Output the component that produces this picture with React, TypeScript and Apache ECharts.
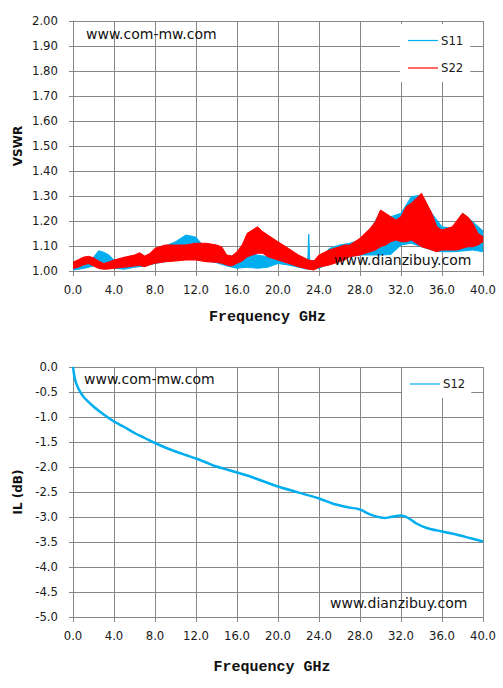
import React, { useEffect, useRef } from "react";
import * as echarts from "echarts";

// ---- Top chart (VSWR) : noisy traces read as lower / upper envelopes ----
const s22Freq = [0, 0.5, 1, 1.5, 2, 2.5, 3, 3.5, 4, 5, 6, 6.5, 7, 7.5, 8, 9, 10, 11, 12, 13, 14, 14.5, 15, 15.5, 16, 16.5, 17, 17.5, 18, 18.5, 19, 20, 21, 22, 23, 23.5, 24, 25, 26, 26.5, 27, 28, 29, 29.5, 30, 30.5, 31, 31.5, 32, 32.5, 33, 33.5, 34, 34.5, 35, 35.5, 36, 37, 37.5, 38, 38.5, 39, 39.5, 40];
const s22Low = [1.010, 1.015, 1.024, 1.030, 1.020, 1.010, 1.007, 1.008, 1.011, 1.015, 1.020, 1.022, 1.017, 1.025, 1.031, 1.037, 1.040, 1.044, 1.044, 1.037, 1.035, 1.031, 1.024, 1.020, 1.031, 1.040, 1.057, 1.064, 1.071, 1.071, 1.057, 1.044, 1.031, 1.017, 1.007, 1.004, 1.015, 1.024, 1.037, 1.044, 1.057, 1.064, 1.077, 1.084, 1.097, 1.104, 1.117, 1.124, 1.117, 1.117, 1.124, 1.111, 1.097, 1.091, 1.084, 1.077, 1.084, 1.084, 1.084, 1.091, 1.097, 1.097, 1.104, 1.117];
const s22High = [1.035, 1.045, 1.055, 1.059, 1.053, 1.040, 1.030, 1.036, 1.044, 1.055, 1.064, 1.073, 1.060, 1.070, 1.091, 1.104, 1.104, 1.104, 1.111, 1.111, 1.104, 1.097, 1.064, 1.060, 1.077, 1.104, 1.151, 1.164, 1.177, 1.158, 1.144, 1.117, 1.091, 1.064, 1.044, 1.040, 1.064, 1.084, 1.097, 1.104, 1.104, 1.131, 1.171, 1.197, 1.244, 1.231, 1.217, 1.204, 1.217, 1.257, 1.271, 1.291, 1.311, 1.271, 1.231, 1.177, 1.164, 1.177, 1.204, 1.231, 1.217, 1.191, 1.151, 1.137];

const s11Freq = [0, 1, 2, 2.5, 3, 3.5, 4, 5, 6, 7, 8, 9, 10, 11, 11.5, 12, 12.5, 13, 14, 15, 16, 17, 18, 19, 20, 21, 22, 22.9, 23, 23.1, 24, 25, 26, 27, 28, 29, 30, 31, 32, 33, 34, 35, 36, 37, 38, 39, 40];
const s11Low = [1.004, 1.010, 1.020, 1.035, 1.033, 1.030, 1.011, 1.007, 1.015, 1.020, 1.030, 1.037, 1.044, 1.050, 1.050, 1.050, 1.045, 1.040, 1.033, 1.020, 1.011, 1.015, 1.011, 1.015, 1.030, 1.024, 1.015, 1.007, 1.007, 1.007, 1.011, 1.030, 1.044, 1.057, 1.064, 1.064, 1.064, 1.066, 1.104, 1.111, 1.097, 1.084, 1.077, 1.077, 1.080, 1.084, 1.077];
const s11High = [1.024, 1.040, 1.055, 1.081, 1.075, 1.064, 1.044, 1.044, 1.050, 1.057, 1.080, 1.100, 1.117, 1.144, 1.140, 1.135, 1.111, 1.097, 1.085, 1.060, 1.060, 1.075, 1.064, 1.057, 1.070, 1.064, 1.057, 1.040, 1.147, 1.040, 1.044, 1.090, 1.104, 1.111, 1.124, 1.164, 1.237, 1.217, 1.231, 1.297, 1.304, 1.231, 1.177, 1.171, 1.231, 1.197, 1.160];

// ---- Bottom chart (IL) ----
const s12Freq = [0, 0.2, 0.5, 1, 2, 3, 4, 5, 6, 7, 8, 9, 10, 11, 12, 13, 14, 15, 16, 17, 17.3, 20, 24, 25.3, 26.7, 28, 29, 30.4, 31, 32, 32.7, 33.5, 34.5, 36, 37.4, 38.7, 40];
const s12Values = [0, -0.25, -0.42, -0.59, -0.79, -0.95, -1.09, -1.2, -1.32, -1.42, -1.52, -1.61, -1.69, -1.76, -1.83, -1.91, -1.99, -2.05, -2.11, -2.17, -2.19, -2.39, -2.63, -2.73, -2.8, -2.85, -2.95, -3.02, -3.0, -2.97, -3.02, -3.13, -3.22, -3.29, -3.35, -3.42, -3.49];

const BLUE = "#00AEEF";
const RED = "#FF0000";
const GRID = "#878787";
const LABEL_FONT = "DejaVu Sans";

function bandSeries(name: string, freq: number[], low: number[], high: number[], color: string) {
  return {
    type: "custom",
    name,
    xAxisIndex: 0,
    yAxisIndex: 0,
    silent: true,
    clip: true,
    data: [0],
    renderItem: (_params: any, api: any) => {
      const pts: number[][] = [];
      for (let i = 0; i < freq.length; i++) pts.push(api.coord([freq[i], high[i]]));
      for (let i = freq.length - 1; i >= 0; i--) pts.push(api.coord([freq[i], low[i]]));
      return {
        type: "polygon",
        shape: { points: pts },
        style: { fill: color, stroke: color, lineWidth: 1 },
      };
    },
  };
}

function legendSeries(name: string, color: string) {
  return {
    type: "custom",
    name,
    xAxisIndex: 0,
    yAxisIndex: 0,
    data: [],
    renderItem: () => null,
    itemStyle: { color, borderWidth: 0 },
  };
}

function xAxisCfg(gridIndex: number) {
  return {
    type: "value",
    gridIndex,
    min: 0,
    max: 40,
    interval: 4,
    axisLine: { show: true, onZero: false, lineStyle: { color: GRID, width: 1 } },
    axisTick: { show: true, length: 5, lineStyle: { color: GRID } },
    splitLine: { show: true, lineStyle: { color: GRID, width: 1 } },
    axisLabel: {
      margin: 13,
      fontFamily: LABEL_FONT,
      fontSize: 11.7,
      color: "#1a1a1a",
      formatter: (v: number) => v.toFixed(1),
    },
  };
}

function yAxisCfg(gridIndex: number, min: number, max: number, interval: number, digits: number) {
  return {
    type: "value",
    gridIndex,
    min,
    max,
    interval,
    axisLine: { show: true, onZero: false, lineStyle: { color: GRID, width: 1 } },
    axisTick: { show: true, length: 4, lineStyle: { color: GRID } },
    splitLine: { show: true, lineStyle: { color: GRID, width: 1 } },
    axisLabel: {
      margin: 15,
      fontFamily: LABEL_FONT,
      fontSize: 11.7,
      color: "#1a1a1a",
      formatter: (v: number) => v.toFixed(digits),
    },
  };
}

const legendText = { fontFamily: LABEL_FONT, fontSize: 11.7, lineHeight: 14, color: "#1a1a1a", padding: [0, 0, 0, -2] };
const legendItemStyle = { borderWidth: 0 };

export default function App() {
  const ref = useRef<HTMLDivElement>(null);
  useEffect(() => {
    if (!ref.current) return;
    const chart = echarts.init(ref.current, undefined, { renderer: "svg" });
    chart.setOption({
      animation: false,
      backgroundColor: "#ffffff",
      grid: [
        { left: 73, top: 21, width: 410, height: 250 },
        { left: 73, top: 367, width: 410, height: 250 },
      ],
      xAxis: [xAxisCfg(0), xAxisCfg(1)],
      yAxis: [yAxisCfg(0, 1, 2, 0.1, 2), yAxisCfg(1, -5, 0, 0.5, 1)],
      legend: [
        {
          orient: "vertical",
          left: 400,
          top: 24,
          padding: [9.5, 7, 7, 8],
          backgroundColor: "#ffffff",
          icon: "rect",
          itemWidth: 30,
          itemHeight: 1.2,
          itemGap: 13.5,
          itemStyle: legendItemStyle,
          textStyle: legendText,
          data: ["S11", "S22"],
          selectedMode: false,
        },
        {
          orient: "vertical",
          left: 402,
          top: 368,
          padding: [9, 6, 7, 8],
          backgroundColor: "#ffffff",
          icon: "rect",
          itemWidth: 30,
          itemHeight: 1.2,
          itemStyle: legendItemStyle,
          textStyle: legendText,
          data: ["S12"],
          selectedMode: false,
        },
      ],
      series: [
        bandSeries("S11 trace", s11Freq, s11Low, s11High, BLUE),
        bandSeries("S22 trace", s22Freq, s22Low, s22High, RED),
        legendSeries("S11", BLUE),
        legendSeries("S22", RED),
        {
          type: "line",
          name: "S12",
          xAxisIndex: 1,
          yAxisIndex: 1,
          data: s12Freq.map((f, i) => [f, s12Values[i]]),
          symbol: "none",
          smooth: 0.3,
          lineStyle: { color: BLUE, width: 2.5 },
          itemStyle: { color: BLUE, borderWidth: 0 },
        },
      ],
      graphic: [
        { type: "text", z: 100, x: 86, y: 34, style: { text: "www.com-mw.com", font: "14px 'DejaVu Sans'", fill: "#111", align: "left", verticalAlign: "middle" } },
        { type: "text", z: 100, x: 334, y: 260, style: { text: "www.dianzibuy.com", font: "14px 'DejaVu Sans'", fill: "#111", align: "left", verticalAlign: "middle" } },
        { type: "text", z: 100, x: 84, y: 379, style: { text: "www.com-mw.com", font: "14px 'DejaVu Sans'", fill: "#111", align: "left", verticalAlign: "middle" } },
        { type: "text", z: 100, x: 330, y: 603, style: { text: "www.dianzibuy.com", font: "14px 'DejaVu Sans'", fill: "#111", align: "left", verticalAlign: "middle" } },
        { type: "text", z: 100, x: 267.5, y: 317, style: { text: "Frequency GHz", font: "bold 15px 'Liberation Mono'", fill: "#111", align: "center", verticalAlign: "middle" } },
        { type: "text", z: 100, x: 272, y: 667, style: { text: "Frequency GHz", font: "bold 15px 'Liberation Mono'", fill: "#111", align: "center", verticalAlign: "middle" } },
        { type: "text", z: 100, x: 18, y: 146, rotation: Math.PI / 2, style: { text: "VSWR", font: "bold 12px 'DejaVu Sans'", fill: "#111", align: "center", verticalAlign: "middle" } },
        { type: "text", z: 100, x: 18, y: 492, rotation: Math.PI / 2, style: { text: "IL (dB)", font: "bold 12px 'DejaVu Sans'", fill: "#111", align: "center", verticalAlign: "middle" } },
      ],
    });
    return () => chart.dispose();
  }, []);
  return <div ref={ref} style={{ position: "absolute", left: 0, top: 0, width: 503, height: 688 }} />;
}
